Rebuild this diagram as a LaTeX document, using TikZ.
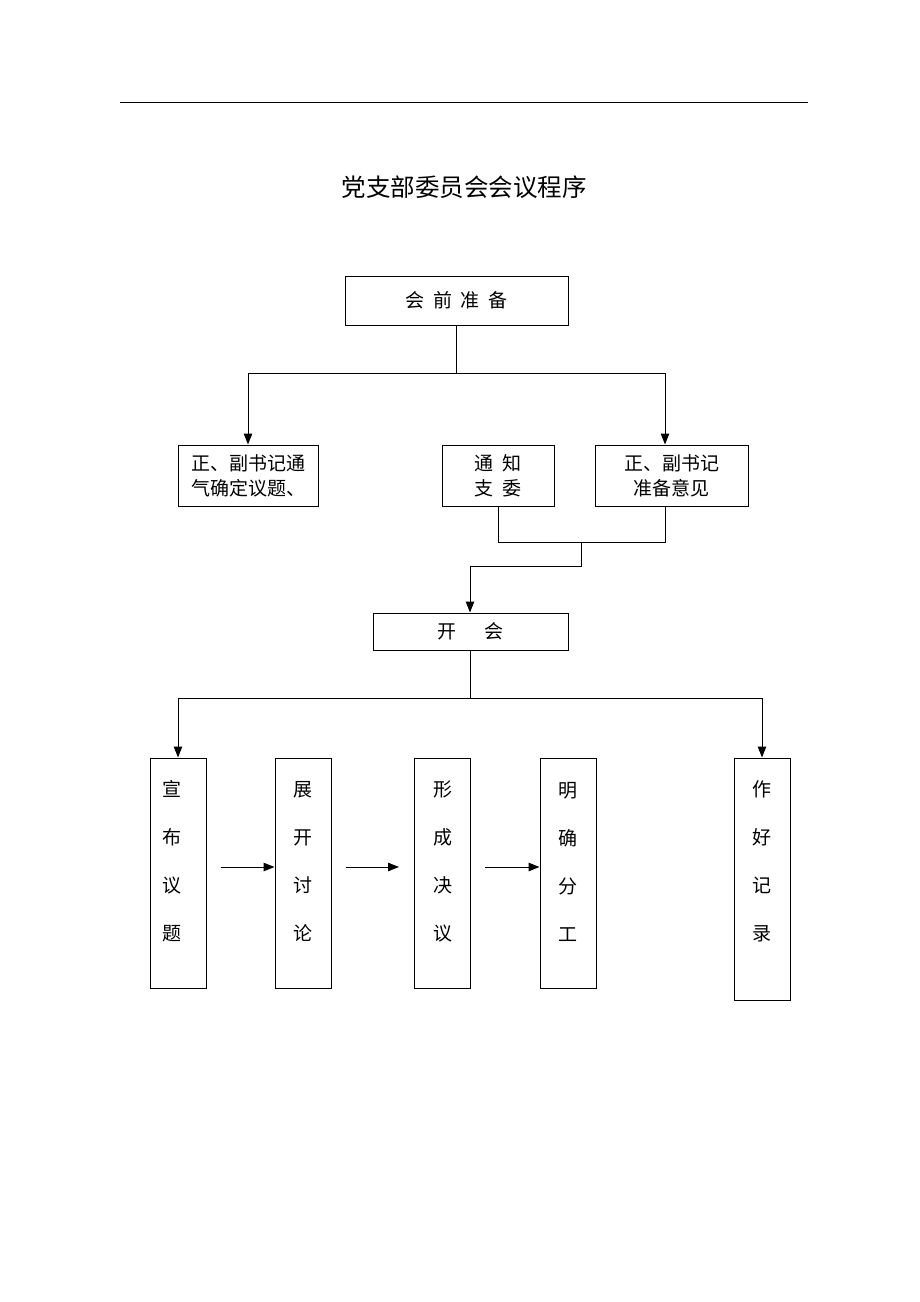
\documentclass[tikz,border=0pt]{standalone}
\usepackage{fontspec}
\setmainfont{Noto Sans CJK SC}
\usetikzlibrary{arrows.meta}

\tikzset{
  box/.style={draw, inner sep=0pt, align=center, font=\fontsize{19}{25}\selectfont},
  tallbox/.style={draw, inner sep=0pt, minimum width=56pt},
  coltext/.style={inner sep=0pt, align=center, font=\fontsize{19}{48}\selectfont},
}

\begin{document}
\begin{tikzpicture}[x=1pt, y=-1pt, ->, >={Triangle[length=11pt,width=8.5pt]}, line width=1pt]
    \useasboundingbox (0,0) rectangle (920,1302);
    \coordinate (r1) at (120,102);
    \coordinate (r2) at (808,102);
    \draw[-] (r1) -- (r2);
    \node[font=\fontsize{24.5}{24.5}\selectfont] (title) at (464,187) {党支部委员会会议程序};

    % first row
    \node[box, minimum width=223pt, minimum height=49pt] (prep) at (456.5,300.5)
        {会\hspace*{8.7pt}前\hspace*{8.7pt}准\hspace*{8.7pt}备};
    \node[box, minimum width=140pt, minimum height=61pt] (zfs) at (248,475.5)
        {正、副书记通\\气确定议题、};
    \node[box, minimum width=112pt, minimum height=61pt] (tz) at (498,475.5)
        {通\hspace*{9pt}知\\支\hspace*{9pt}委};
    \node[box, minimum width=153pt, minimum height=61pt] (zbz) at (671.5,475.5)
        {正、副书记\\准备意见};
    \node[box, minimum width=195pt, minimum height=37pt] (kh) at (470.5,631.5)
        {开\hspace*{28pt}会};

    \draw[-] (prep.south) -- ++(0,48) coordinate (j1);
    \draw (j1) -| (zfs);
    \draw (j1) -| ([xshift=-6.5pt]zbz.north);
    \draw[-] (tz.south) -- ++(0,36) -| ([xshift=-6.5pt]zbz.south);
    \coordinate (j2) at (581.5,542);
    \draw (j2) -- ++(0,24) -| ([xshift=-0.5pt]kh.north);

    % second row
    \node[tallbox, minimum height=230pt] (xb) at (178,873) {};
    \node[tallbox, minimum height=230pt] (zk) at (303,873) {};
    \node[tallbox, minimum height=230pt] (xc) at (442.5,873) {};
    \node[tallbox, minimum height=230pt] (mq) at (568,873) {};
    \node[tallbox, minimum height=242pt] (zh) at (762,879) {};
    \node[coltext] (xb-t) at ([shift={(-6,-11.5)}]xb.center) {宣\\布\\议\\题};
    \node[coltext] (zk-t) at ([shift={(0,-11.5)}]zk.center) {展\\开\\讨\\论};
    \node[coltext] (xc-t) at ([shift={(0,-11.5)}]xc.center) {形\\成\\决\\议};
    \node[coltext] (mq-t) at ([shift={(0,-11.5)}]mq.center) {明\\确\\分\\工};
    \node[coltext] (zh-t) at ([shift={(0,-17.5)}]zh.center) {作\\好\\记\\录};

    \draw[-] ([xshift=-0.5pt]kh.south) -- ++(0,48) coordinate (j3);
    \draw (j3) -| (xb);
    \draw (j3) -| (zh);
    \draw ([shift={(14,-6)}]xb.east) -- ([yshift=6pt]zk.west);
    \draw ([shift={(14,-6)}]zk.east) -- ([shift={(-15,-6)}]xc.west);
    \draw ([shift={(14,-6)}]xc.east) -- ([yshift=6pt]mq.west);
\end{tikzpicture}
\end{document}
